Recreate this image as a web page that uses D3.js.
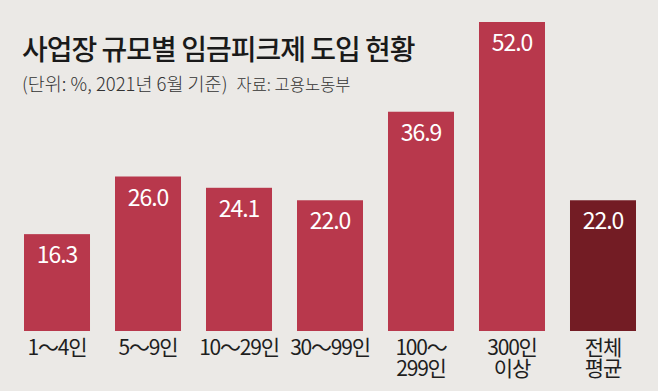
<!DOCTYPE html>
<html><head><meta charset="utf-8">
<script src="https://cdn.jsdelivr.net/npm/d3@7"></script>
<style>
html,body{margin:0;padding:0;background:#ebe9e6;}
svg{display:block;}
text{font-family:"Noto Sans CJK KR","Noto Sans",sans-serif;}
</style></head>
<body>
<svg id="chart" width="658" height="391"></svg>
<script>
const title = "사업장 규모별 임금피크제 도입 현황";
const unitNote = "(단위: %, 2021년 6월 기준)";
const sourceNote = "자료: 고용노동부";
const categories = ["1～4인", "5～9인", "10～29인", "30～99인", "100～\n299인", "300인\n이상", "전체\n평균"];
const values = [16.3, 26.0, 24.1, 22.0, 36.9, 52.0, 22.0];
const isAverage = [false, false, false, false, false, false, true];

const svg = d3.select("#chart");
svg.append("rect").attr("width", 658).attr("height", 391).attr("fill", "#ebe9e6");

const x = d3.scaleBand().domain(categories).range([11.5, 648.5])
  .paddingInner(0.2747).paddingOuter(0.1374);
const y = d3.scaleLinear().domain([0, 52]).range([331, 22]);

svg.append("text").attr("x", 22).attr("y", 60)
  .attr("font-size", 28).attr("font-weight", 500).attr("letter-spacing", -1)
  .attr("fill", "#1a1a1a").text(title);

const sub = svg.append("text").attr("x", 22).attr("y", 91).attr("fill", "#333");
sub.append("tspan").attr("font-size", 18.5).attr("font-weight", 300).text(unitNote);
sub.append("tspan").attr("dx", 9).attr("font-size", 16.5).attr("font-weight", 300).text(sourceNote);

const data = categories.map((c, i) => ({c, v: values[i], avg: isAverage[i]}));

svg.selectAll("rect.bar").data(data).join("rect").attr("class", "bar")
  .attr("x", d => x(d.c)).attr("width", x.bandwidth())
  .attr("y", d => y(d.v)).attr("height", d => y(0) - y(d.v))
  .attr("fill", d => d.avg ? "#731c24" : "#b8384c");

svg.selectAll("text.val").data(data).join("text").attr("class", "val")
  .attr("x", d => x(d.c) + x.bandwidth() / 2).attr("y", d => y(d.v) + 29)
  .attr("text-anchor", "middle").attr("font-size", 23).attr("letter-spacing", -1)
  .attr("fill", "#fff").text(d => d.v.toFixed(1));

const lab = svg.selectAll("text.cat").data(data).join("text").attr("class", "cat")
  .attr("text-anchor", "middle").attr("font-size", 21).attr("letter-spacing", -1.2)
  .attr("font-weight", 400).attr("fill", "#1e1e1e");
lab.each(function(d) {
  const t = d3.select(this);
  d.c.split("\n").forEach((line, i) => {
    t.append("tspan").attr("x", x(d.c) + x.bandwidth() / 2).attr("y", 355 + i * 21).text(line);
  });
});
</script>
</body></html>
